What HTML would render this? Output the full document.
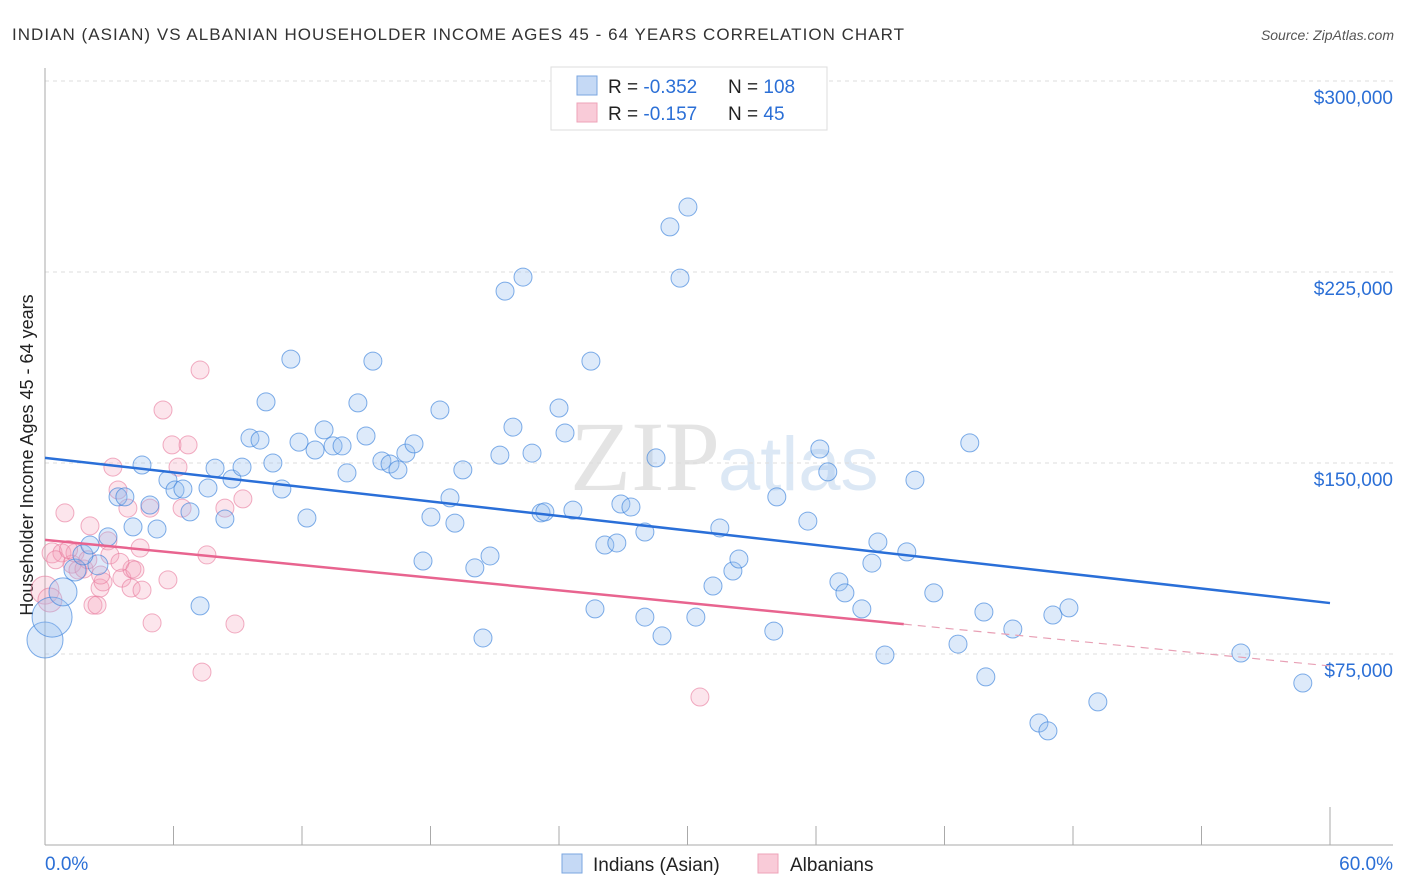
<!DOCTYPE html>
<html><head><meta charset="utf-8">
<style>
body{margin:0;background:#fff;font-family:"Liberation Sans",sans-serif;}
#wrap{position:relative;width:1406px;height:892px;overflow:hidden;}
</style></head>
<body>
<div id="wrap">
<svg id="chart" width="1406" height="892" xmlns="http://www.w3.org/2000/svg">
<text x="12" y="40" font-size="17" fill="#333" textLength="892" lengthAdjust="spacing">INDIAN (ASIAN) VS ALBANIAN HOUSEHOLDER INCOME AGES 45 - 64 YEARS CORRELATION CHART</text>
<text x="1394" y="40" font-size="14" fill="#555" text-anchor="end" font-style="italic">Source: ZipAtlas.com</text>
<text x="720" y="490" font-size="100" fill="#e4e4e4" text-anchor="end" font-family="Liberation Serif,serif">ZIP</text>
<text x="718" y="490" font-size="76" fill="#dce8f5">atlas</text>
<text transform="translate(33,455) rotate(-90)" font-size="18" fill="#222" text-anchor="middle">Householder Income Ages 45 - 64 years</text>
<g id="grid"></g><g id="axes"></g><g id="pinkpts"></g><g id="bluepts"></g><g id="lines"></g>
<g>
<rect x="551" y="67" width="276" height="63" fill="#fff" stroke="#ddd"/>
<rect x="577" y="76" width="20" height="19" fill="#c5d9f5" stroke="#7aa6e0"/>
<rect x="577" y="103" width="20" height="19" fill="#f9cbd8" stroke="#eea3b8"/>
<text x="608" y="93" font-size="19" fill="#222">R = <tspan fill="#2b6fd6">-0.352</tspan></text>
<text x="728" y="93" font-size="19" fill="#222">N = <tspan fill="#2b6fd6">108</tspan></text>
<text x="608" y="120" font-size="19" fill="#222">R =  <tspan fill="#2b6fd6">-0.157</tspan></text>
<text x="728" y="120" font-size="19" fill="#222">N =   <tspan fill="#2b6fd6">45</tspan></text>
</g>
<g>
<rect x="562" y="854" width="20" height="19" fill="#c5d9f5" stroke="#7aa6e0"/>
<text x="593" y="871" font-size="19" fill="#222">Indians (Asian)</text>
<rect x="758" y="854" width="20" height="19" fill="#f9cbd8" stroke="#eea3b8"/>
<text x="790" y="871" font-size="19" fill="#222">Albanians</text>
</g>
</svg>
</div>
<script>
const yTicks=[75000,150000,225000,300000];
const yTickLabels=["$75,000","$150,000","$225,000","$300,000"];
const xTicks=[0,6,12,18,24,30,36,42,48,54,60];
const blueX=[0,0.33,0.84,1.40,2.47,1.77,2.10,2.94,3.41,3.73,4.11,4.53,4.90,5.23,5.74,6.07,6.44,6.77,7.24,7.61,7.94,8.40,8.73,9.20,9.57,10.04,10.32,10.64,11.06,11.48,11.86,12.23,12.61,13.03,13.45,13.87,14.10,14.61,14.99,15.31,15.73,16.11,16.48,16.85,17.23,17.65,18.02,18.44,18.91,19.14,19.51,20.07,20.45,20.78,21.24,21.48,21.85,22.32,22.74,23.16,23.34,24.0,24.28,24.65,25.49,25.68,26.14,26.70,26.89,27.36,28.01,28.01,28.53,28.81,29.18,29.65,30.02,30.39,31.19,31.51,32.12,32.40,34.03,34.17,35.62,36.18,36.55,37.07,37.35,38.14,38.61,38.89,39.22,40.24,40.62,41.50,42.63,43.18,43.84,43.93,45.19,46.41,46.83,47.06,47.81,49.16,55.84,58.73];
const blueY=[80.5,89.5,99.4,108,110,113.9,117.8,121,136.7,136.7,124.9,149.2,133.5,124.1,143.3,139.4,139.8,130.8,93.9,140.2,148,128,143.7,148.4,159.8,159,174,150,139.8,190.8,158.2,128.4,155.1,163,156.7,156.7,146.1,173.6,160.6,190,150.8,149.6,147.3,153.9,157.5,111.5,128.8,170.8,136.3,126.4,147.3,108.8,81.3,113.5,153.1,217.5,164.1,223,153.9,130.4,130.8,171.6,161.8,131.5,190,92.7,117.8,118.6,133.9,132.7,122.9,89.5,152,82.1,242.7,222.6,250.5,89.5,101.7,124.5,107.6,112.3,84,136.7,127.2,155.5,146.5,103.3,99,92.7,110.7,119,74.6,115.1,143.3,99,78.9,157.9,91.5,66,84.8,47.9,44.8,90.3,93.1,56.2,75.4,63.6];
const blueSize=[18,20,14,11,10,10,9,9,9,9,9,9,9,9,9,9,9,9,9,9,9,9,9,9,9,9,9,9,9,9,9,9,9,9,9,9,9,9,9,9,9,9,9,9,9,9,9,9,9,9,9,9,9,9,9,9,9,9,9,9,9,9,9,9,9,9,9,9,9,9,9,9,9,9,9,9,9,9,9,9,9,9,9,9,9,9,9,9,9,9,9,9,9,9,9,9,9,9,9,9,9,9,9,9,9,9,9,9];
const pinkX=[0,0.23,0.33,0.79,0.93,1.26,1.54,1.82,2.10,2.24,2.43,2.57,2.71,2.94,3.03,3.17,3.41,3.59,3.87,4.02,4.06,4.44,4.53,4.90,5.0,5.51,5.74,5.93,6.21,6.40,6.68,7.24,7.33,7.56,8.40,8.87,9.24,30.58,1.40,3.5,2.0,0.5,1.1,4.2,2.6];
const pinkY=[100.1,96.2,114.7,114.7,130.4,110.3,108,108.4,125.3,94.2,94.2,100.9,103.3,119.4,113.9,148.4,139.4,104.8,132.3,100.9,108.4,116.6,100.1,132.3,87.2,170.8,104.1,157.1,148.4,132.3,157.1,186.5,67.9,113.9,132.3,86.8,135.9,58.1,114.7,111,112,112,116,108,106];
const pinkSize=[14,12,10,9,9,9,9,9,9,9,9,9,9,9,9,9,9,9,9,9,9,9,9,9,9,9,9,9,9,9,9,9,9,9,9,9,9,9,9,9,9,9,9,9,9];
const blueTrend=[152,95];
const pinkTrend=[119.8,70.3];
const pinkSolidEnd=40.1;

const NS="http://www.w3.org/2000/svg";
const X=v=>45+v*(1330-45)/60;
const Y=v=>845-v*1000*191/75000;
function mk(tag,attrs,parent){const e=document.createElementNS(NS,tag);for(const k in attrs)e.setAttribute(k,attrs[k]);document.getElementById(parent).appendChild(e);return e;}

yTicks.forEach((t,i)=>{
 const l=mk('line',{x1:45,x2:1393,y1:Y(t/1000),y2:Y(t/1000),stroke:'#ddd','stroke-dasharray':'4,4'},'grid');
 
 
 const tx=mk('text',{x:1393,y:Y(t/1000)+23,'font-size':19,fill:'#2b6fd6','text-anchor':'end'},'grid');
 tx.textContent=yTickLabels[i];
 
 
});
let ax=mk('line',{x1:45,x2:45,y1:68,y2:845,stroke:'#aaa'},'axes');


ax=mk('line',{x1:45,x2:1393,y1:845,y2:845,stroke:'#aaa'},'axes');


xTicks.forEach((t,i)=>{
 const len=(i===0||i===xTicks.length-1)?38:19;
 const l=mk('line',{x1:X(t),x2:X(t),y1:845-len,y2:845,stroke:'#aaa'},'axes');
 
 
});
let t0=mk('text',{x:45,y:870,'font-size':19,fill:'#2b6fd6'},'axes');t0.textContent=xTicks[0].toFixed(1)+'%';


let t1=mk('text',{x:1393,y:870,'font-size':19,fill:'#2b6fd6','text-anchor':'end'},'axes');t1.textContent=xTicks[xTicks.length-1].toFixed(1)+'%';



pinkX.forEach((v,i)=>{
 const c=mk('circle',{cx:X(v),cy:Y(pinkY[i]),r:pinkSize[i],fill:'rgba(244,160,185,0.28)',stroke:'rgba(232,120,155,0.6)','stroke-width':1},'pinkpts');
 
 
});
blueX.forEach((v,i)=>{
 const c=mk('circle',{cx:X(v),cy:Y(blueY[i]),r:blueSize[i],fill:'rgba(150,190,240,0.32)',stroke:'rgba(60,130,220,0.65)','stroke-width':1},'bluepts');
 
 
});
const py=x=>pinkTrend[0]+(pinkTrend[1]-pinkTrend[0])*x/60;
let ln=mk('line',{x1:X(0),y1:Y(blueTrend[0]),x2:X(60),y2:Y(blueTrend[1]),stroke:'#2a6fd8','stroke-width':2.5},'lines');


ln=mk('line',{x1:X(0),y1:Y(py(0)),x2:X(pinkSolidEnd),y2:Y(py(pinkSolidEnd)),stroke:'#e8648f','stroke-width':2.5},'lines');


ln=mk('line',{x1:X(pinkSolidEnd),y1:Y(py(pinkSolidEnd)),x2:X(60),y2:Y(py(60)),stroke:'#e8a0b5','stroke-width':1.2,'stroke-dasharray':'8,6'},'lines');


</script>
</body></html>
